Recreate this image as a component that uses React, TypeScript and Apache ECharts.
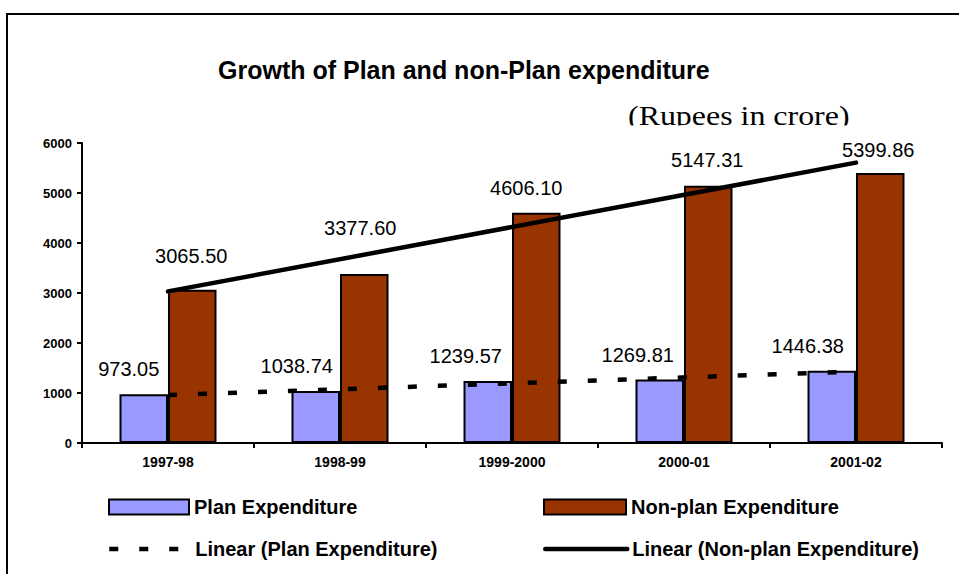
import React, { useEffect, useRef } from "react";
import * as echarts from "echarts";

const categories = ["1997-98", "1998-99", "1999-2000", "2000-01", "2001-02"];
const planValues = [973.05, 1038.74, 1239.57, 1269.81, 1446.38];
const nonPlanValues = [3065.5, 3377.6, 4606.1, 5147.31, 5399.86];
// trend line end values (first and last category)
const planTrendEnds = [958, 1429];
const nonPlanTrendEnds = [3032, 5607];
const yMin = 0;
const yMax = 6000;
const yStep = 1000;

// label placement (layout only)
const planLabelOffsets = [[-15, -10], [-19, -10], [-22, -10], [-22, -10], [-24, -10]];
const nonPlanLabelOffsets = [[-1, -19], [-4, -31], [-10, -10], [-1, -11], [-2, -8]];

const SANS = '"Liberation Sans", Arial, sans-serif';
const SERIF = '"Liberation Serif", "Times New Roman", serif';

export default function App() {
  const ref = useRef<HTMLDivElement>(null);
  useEffect(() => {
    if (!ref.current) return;
    const chart = echarts.init(ref.current, null, { renderer: "svg" });
    const labelBase = {
      show: true,
      position: "top",
      distance: 5,
      color: "#000",
      fontFamily: SANS,
      fontSize: 20,
      lineHeight: 20,
      formatter: (p: any) => Number(p.value).toFixed(2),
    };
    const legendText = {
      color: "#000",
      fontFamily: SANS,
      fontSize: 20,
      fontWeight: "bold",
    };
    const dashed = [9, 21];
    const option: any = {
      animation: false,
      backgroundColor: "#fff",
      title: {
        text: "Growth of Plan and non-Plan expenditure",
        left: 218,
        top: 57,
        padding: 0,
        textStyle: { color: "#000", fontFamily: SANS, fontSize: 25, fontWeight: "bold" },
      },
      grid: { left: 82, top: 143, width: 860, height: 300, containLabel: false },
      xAxis: {
        type: "category",
        data: categories,
        axisLine: { lineStyle: { color: "#000", width: 2 } },
        axisTick: { show: true, inside: false, length: 5, alignWithLabel: false, lineStyle: { color: "#000", width: 2 } },
        axisLabel: { color: "#000", fontFamily: SANS, fontSize: 14, fontWeight: "bold", margin: 12, interval: 0 },
        splitLine: { show: false },
      },
      yAxis: {
        type: "value",
        min: yMin,
        max: yMax,
        interval: yStep,
        axisLine: { show: true, lineStyle: { color: "#000", width: 2 } },
        axisTick: { show: true, inside: false, length: 5, lineStyle: { color: "#000", width: 2 } },
        axisLabel: {
          color: "#000",
          fontFamily: SANS,
          fontSize: 13,
          fontWeight: "bold",
          margin: 10,
          formatter: (v: number) => String(v),
        },
        splitLine: { show: false },
      },
      legend: [
        { data: ["Plan Expenditure"], left: 108, top: 497, padding: 0, itemWidth: 80, itemHeight: 15, icon: "rect", textStyle: legendText },
        { data: ["Non-plan Expenditure"], left: 543, top: 497, padding: 0, itemWidth: 82, itemHeight: 15, icon: "rect", textStyle: legendText },
        {
          data: ["Linear (Plan Expenditure)"],
          left: 107,
          top: 539,
          padding: 0,
          itemWidth: 81,
          itemHeight: 15,
          textStyle: legendText,
          itemStyle: { opacity: 0 },
          lineStyle: { color: "#000", width: 4.5, type: dashed, cap: "butt" },
        },
        {
          data: ["Linear (Non-plan Expenditure)"],
          left: 543,
          top: 539,
          padding: 0,
          itemWidth: 82,
          itemHeight: 15,
          textStyle: legendText,
          itemStyle: { opacity: 0 },
          lineStyle: { color: "#000", width: 4.5, type: "solid", cap: "round" },
        },
      ],
      series: [
        {
          name: "Plan Expenditure",
          type: "bar",
          barWidth: 48.5,
          barGap: "0%",
          itemStyle: { color: "#9999FF", borderColor: "#000", borderWidth: 2 },
          label: labelBase,
          data: planValues.map((v, i) => ({ value: v, label: { offset: planLabelOffsets[i] } })),
          z: 2,
        },
        {
          name: "Non-plan Expenditure",
          type: "bar",
          barWidth: 48.5,
          barGap: "0%",
          itemStyle: { color: "#993300", borderColor: "#000", borderWidth: 2 },
          label: labelBase,
          data: nonPlanValues.map((v, i) => ({ value: v, label: { offset: nonPlanLabelOffsets[i] } })),
          z: 2,
        },
        {
          name: "Linear (Plan Expenditure)",
          type: "line",
          symbol: "none",
          silent: true,
          lineStyle: { color: "#000", width: 4.5, type: dashed, cap: "butt" },
          itemStyle: { color: "#000" },
          data: [
            [categories[0], planTrendEnds[0]],
            [categories[categories.length - 1], planTrendEnds[1]],
          ],
          z: 5,
        },
        {
          name: "Linear (Non-plan Expenditure)",
          type: "line",
          symbol: "none",
          silent: true,
          lineStyle: { color: "#000", width: 4.5, type: "solid", cap: "round" },
          itemStyle: { color: "#000" },
          data: [
            [categories[0], nonPlanTrendEnds[0]],
            [categories[categories.length - 1], nonPlanTrendEnds[1]],
          ],
          z: 5,
        },
      ],
      graphic: [
        {
          type: "rect",
          silent: true,
          shape: { x: 7, y: 14, width: 1000, height: 700 },
          style: { fill: "none", stroke: "#000", lineWidth: 2 },
        },
        {
          type: "text",
          silent: true,
          x: 628,
          y: 115,
          scaleX: 1.14,
          style: { text: "(Rupees in crore)", font: `28px ${SERIF}`, fill: "#000", verticalAlign: "middle", align: "left" },
        },
        {
          type: "rect",
          silent: true,
          shape: { x: 620, y: 125.5, width: 245, height: 8 },
          style: { fill: "#fff" },
        },
      ],
    };
    chart.setOption(option);
    return () => chart.dispose();
  }, []);
  return <div ref={ref} style={{ position: "absolute", left: 0, top: 0, width: 959, height: 574 }} />;
}
